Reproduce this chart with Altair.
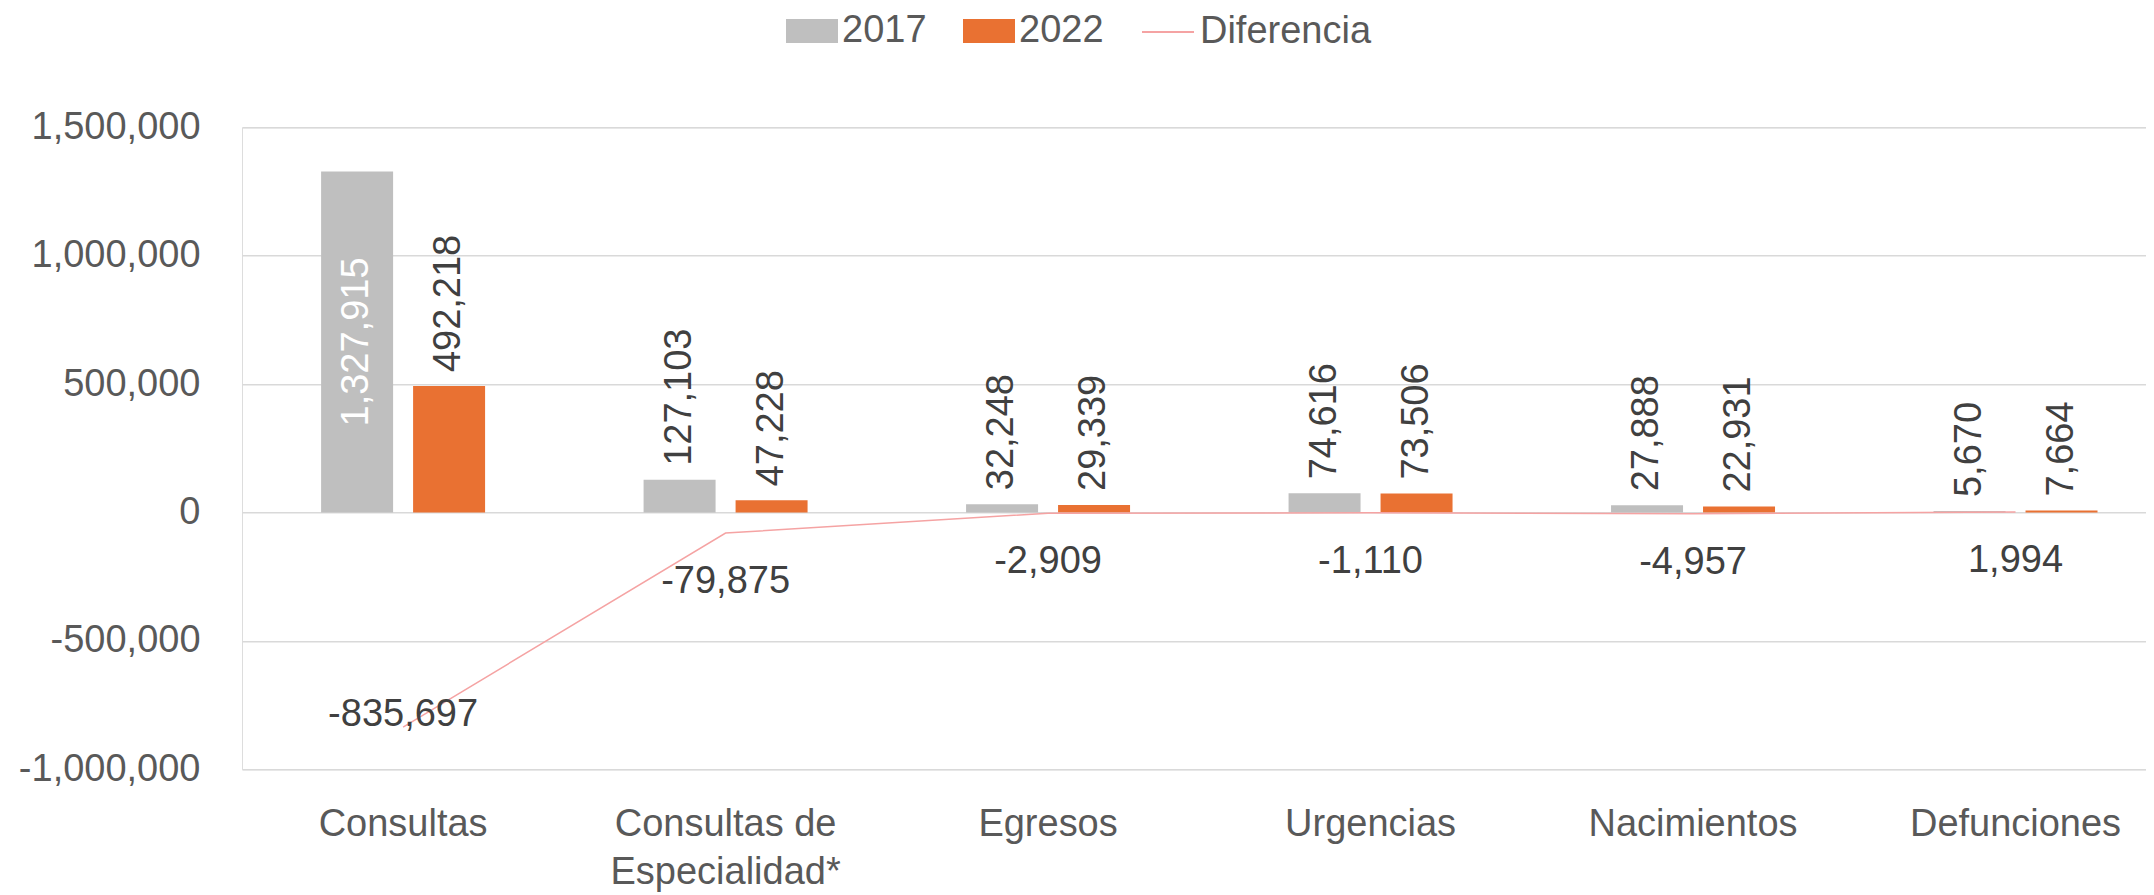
import altair as alt
import pandas as pd

# ---- data ----
categories = ["Consultas", "Consultas de\nEspecialidad*", "Egresos", "Urgencias", "Nacimientos", "Defunciones"]
years = ["2017", "2022"]
values_2017 = [1327915, 127103, 32248, 74616, 27888, 5670]
values_2022 = [492218, 47228, 29339, 73506, 22931, 7664]
diferencia = [-835697, -79875, -2909, -1110, -4957, 1994]
y_ticks = [-1000000, -500000, 0, 500000, 1000000, 1500000]
serie_linea = ["Diferencia"]

bars_df = pd.DataFrame({
    "categoria": categories * 2,
    "anio": [years[0]] * len(categories) + [years[1]] * len(categories),
    "valor": values_2017 + values_2022,
})
line_df = pd.DataFrame({
    "categoria": categories,
    "serie": serie_linea * len(categories),
    "valor": diferencia,
})

FONT = "Liberation Sans, Arial, sans-serif"
AXIS_GRAY = "#595959"
LABEL_GRAY = "#404040"
MINUS_FIX = "replace(format(datum.valor, ','), '\u2212', '-')"

y_scale = alt.Scale(domain=[-1000000, 1500000], nice=False, zero=False)
y_axis = alt.Axis(
    title=None, values=y_ticks,
    labelExpr="replace(format(datum.value, ','), '\u2212', '-')",
    labelFont=FONT, labelFontSize=38, labelColor=AXIS_GRAY, labelPadding=42,
    labelLimit=1000,
    grid=True, gridColor="#D9D9D9", gridWidth=1.5,
    domain=False, ticks=False, tickSize=0,
)
x_enc = alt.X(
    "categoria:N", sort=categories,
    scale=alt.Scale(paddingInner=0.4915, paddingOuter=0.1978, align=0.62),
    axis=alt.Axis(
        title=None, labelAngle=0, labelExpr="split(datum.label, '\\n')",
        labelFont=FONT, labelFontSize=38, labelColor=AXIS_GRAY,
        labelLineHeight=48, labelPadding=36.5, labelLimit=1000,
        ticks=False, tickSize=0, domain=False, grid=False,
    ),
)
xoff = alt.XOffset("anio:N", sort=years, scale=alt.Scale(paddingInner=0.2174, paddingOuter=0))

base_bars = alt.Chart(bars_df)

bars = base_bars.mark_bar().encode(
    x=x_enc,
    xOffset=xoff,
    y=alt.Y("valor:Q", scale=y_scale, axis=y_axis),
    color=alt.Color(
        "anio:N",
        scale=alt.Scale(domain=years, range=["#BFBFBF", "#E97132"]),
        legend=alt.Legend(
            title=None, orient="none", legendX=544, legendY=-122.3, direction="horizontal",
            symbolType="M-1,-0.4615H1V0.4615H-1Z", symbolSize=2704, symbolStrokeWidth=0,
            symbolOpacity=1, labelFont=FONT, labelFontSize=38, labelColor=AXIS_GRAY,
            labelOffset=4, columnPadding=36, labelLimit=1000,
        ),
    ),
)

bar_labels = base_bars.transform_filter("datum.valor < 1000000").transform_calculate(
    etiqueta=MINUS_FIX
).mark_text(
    angle=270, align="left", baseline="middle", dx=14,
    font=FONT, fontSize=38, color=LABEL_GRAY,
).encode(
    x=x_enc, xOffset=xoff,
    y=alt.Y("valor:Q", scale=y_scale, axis=y_axis),
    text="etiqueta:N",
)

bar_labels_inside = base_bars.transform_filter("datum.valor >= 1000000").transform_calculate(
    etiqueta=MINUS_FIX, medio="datum.valor / 2"
).mark_text(
    angle=270, align="center", baseline="middle",
    font=FONT, fontSize=38, color="#FFFFFF",
).encode(
    x=x_enc, xOffset=xoff,
    y=alt.Y("medio:Q", scale=y_scale, axis=y_axis),
    text="etiqueta:N",
)

base_line = alt.Chart(line_df)
line = base_line.mark_line(strokeWidth=1.5).encode(
    x=x_enc,
    y=alt.Y("valor:Q", scale=y_scale, axis=y_axis),
    stroke=alt.Stroke(
        "serie:N",
        scale=alt.Scale(domain=serie_linea, range=["#F5A3A3"]),
        legend=alt.Legend(
            title=None, orient="none", legendX=899, legendY=-122.3, direction="horizontal",
            symbolType="stroke", symbolSize=2704, symbolStrokeWidth=2,
            labelFont=FONT, labelFontSize=38, labelColor=AXIS_GRAY, labelOffset=5,
            labelLimit=1000,
        ),
    ),
)

line_labels = base_line.transform_filter("datum.valor >= -500000").transform_calculate(
    etiqueta=MINUS_FIX
).mark_text(
    align="center", baseline="alphabetic", dy=60,
    font=FONT, fontSize=38, color=LABEL_GRAY,
).encode(
    x=x_enc,
    y=alt.Y("valor:Q", scale=y_scale, axis=y_axis),
    text="etiqueta:N",
)

line_labels_big = base_line.transform_filter("datum.valor < -500000").transform_calculate(
    etiqueta=MINUS_FIX
).mark_text(
    align="center", baseline="alphabetic", dy=-1,
    font=FONT, fontSize=38, color=LABEL_GRAY,
).encode(
    x=x_enc,
    y=alt.Y("valor:Q", scale=y_scale, axis=y_axis),
    text="etiqueta:N",
)

chart = alt.layer(
    bars, bar_labels, bar_labels_inside, line, line_labels, line_labels_big
).properties(
    width=1904, height=642,
    autosize=alt.AutoSizeParams(type="none"),
    padding={"left": 234, "top": 119.3, "right": 0, "bottom": 124},
).resolve_scale(
    color="independent", stroke="independent"
).configure_view(stroke=None).configure(background="white")

chart.save("out.html", embed_options={"renderer": "svg", "actions": False})
